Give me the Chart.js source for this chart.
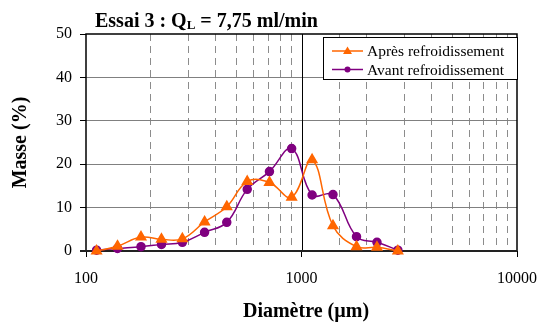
<!DOCTYPE html>
<html>
<head>
<meta charset="utf-8">
<script src="https://cdn.jsdelivr.net/npm/chart.js@4.4.0/dist/chart.umd.min.js"></script>
<style>
  body{margin:0;background:#fff}
  #wrap{width:541px;height:326px}
</style>
</head>
<body>
<div id="wrap"><canvas id="c" width="541" height="326"></canvas></div>
<script>
// donnees
var diametres=[112,140,180,224,280,355,450,560,710,900,1120,1400,1800,2240,2800];
var apres=[0,1.1,3.2,2.7,2.8,6.7,10.2,16.0,15.8,12.4,21.0,5.8,1.0,0.85,0];
var avant=[0.2,0.6,1.0,1.5,2.0,4.3,6.6,14.2,18.3,23.6,12.9,13.0,3.3,2.0,0.2];
var xLabels=[100,1000,10000];
var nomsSeries=["Après refroidissement","Avant refroidissement"];
var couleurs=["#FF6600","#800080"];

var serif="'Liberation Serif','Times New Roman',serif";

function pts(ys){
  var out=[];
  for(var i=0;i<diametres.length;i++) out.push({x:diametres[i],y:ys[i]});
  return out;
}
function isMajor(v){ return xLabels.indexOf(v)>=0; }

var decor={
  id:'decor',
  beforeDatasetsDraw:function(chart){
    var ctx=chart.ctx, a=chart.chartArea, sx=chart.scales.x;
    ctx.save();
    // ligne pleine a 1000
    var px=Math.round(sx.getPixelForValue(1000))+0.5;
    ctx.strokeStyle='#000';ctx.lineWidth=1;
    ctx.beginPath();ctx.moveTo(px,a.top);ctx.lineTo(px,a.bottom);ctx.stroke();
    // cadre
    ctx.lineWidth=1.5;
    ctx.strokeRect(a.left,a.top,a.right-a.left,a.bottom-a.top);
    ctx.lineWidth=2;ctx.strokeStyle='#222';
    ctx.beginPath();ctx.moveTo(a.left-6,a.bottom);ctx.lineTo(a.right,a.bottom);ctx.stroke();
    ctx.restore();
  },
  afterDraw:function(chart){
    var ctx=chart.ctx, a=chart.chartArea;
    ctx.save();
    ctx.fillStyle='#000';
    // titre
    ctx.font='bold 20px '+serif;
    ctx.textBaseline='alphabetic';ctx.textAlign='left';
    var t1="Essai 3 : Q", x=95, y=27;
    ctx.fillText(t1,x,y);x+=ctx.measureText(t1).width;
    ctx.font='bold 13px '+serif;
    ctx.fillText("L",x,y+2);x+=ctx.measureText("L").width;
    ctx.font='bold 20px '+serif;
    ctx.fillText(" = 7,75 ml/min",x,y);
    // titres des axes
    ctx.textAlign='center';ctx.textBaseline='middle';
    ctx.fillText("Diamètre (µm)",306,312);
    ctx.translate(21,(a.top+a.bottom)/2);
    ctx.rotate(-Math.PI/2);
    ctx.fillText("Masse (%)",0,0);
    ctx.restore();

    // legende
    ctx.save();
    var lx=323,ly=37,lw=a.right-lx,lh=42;
    ctx.fillStyle='#fff';ctx.fillRect(lx,ly,lw,lh);
    ctx.strokeStyle='#000';ctx.lineWidth=1;
    ctx.strokeRect(lx+0.5,ly+0.5,lw,lh);
    var rows=[51,69.5];
    for(var i=0;i<2;i++){
      var yy=rows[i];
      ctx.strokeStyle=couleurs[i];ctx.lineWidth=1.5;
      ctx.beginPath();ctx.moveTo(332,yy);ctx.lineTo(363,yy);ctx.stroke();
      ctx.fillStyle=couleurs[i];
      ctx.beginPath();
      if(i===0){ctx.moveTo(347.5,yy-4.5);ctx.lineTo(352,yy+3);ctx.lineTo(343,yy+3);ctx.closePath();}
      else{ctx.arc(347.5,yy,3,0,Math.PI*2);}
      ctx.fill();
      ctx.fillStyle='#000';ctx.font='15.5px '+serif;
      ctx.textAlign='left';ctx.textBaseline='middle';
      ctx.fillText(nomsSeries[i],367,yy+1);
    }
    ctx.restore();
  }
};

new Chart(document.getElementById('c'),{
  type:'line',
  data:{
    datasets:[
      {label:nomsSeries[0],data:pts(apres),borderColor:couleurs[0],backgroundColor:couleurs[0],
       borderWidth:1.5,pointStyle:'triangle',pointRadius:5.5,tension:0.4,clip:false},
      {label:nomsSeries[1],data:pts(avant),borderColor:couleurs[1],backgroundColor:couleurs[1],
       borderWidth:1.5,pointStyle:'circle',pointRadius:4,tension:0.4,clip:false}
    ]
  },
  plugins:[decor],
  options:{
    responsive:false,
    animation:false,
    layout:{padding:{top:34,right:24,left:0,bottom:0}},
    plugins:{legend:{display:false},tooltip:{enabled:false}},
    scales:{
      x:{
        type:'logarithmic',min:100,max:10000,
        afterFit:function(s){s.height=75;s.paddingLeft=0;s.paddingRight=0;},
        border:{display:false,dash:[7,5]},
        grid:{
          color:function(c){return c.tick&&isMajor(c.tick.value)?'rgba(0,0,0,0)':'#8c8c8c';},
          tickColor:function(c){return c.tick&&isMajor(c.tick.value)?'#000':'rgba(0,0,0,0)';},
          tickLength:6,lineWidth:1
        },
        ticks:{
          autoSkip:false,maxRotation:0,padding:12,color:'#000',font:{family:serif,size:16},
          callback:function(v){return isMajor(v)?String(v):'';}
        }
      },
      y:{
        min:0,max:50,
        afterFit:function(s){s.width=86;s.paddingTop=0;s.paddingBottom=0;},
        border:{display:false},
        grid:{
          color:function(c){return (c.tick&&(c.tick.value===0||c.tick.value===50))?'rgba(0,0,0,0)':'#808080';},
          tickColor:'#000',tickLength:6,lineWidth:1
        },
        ticks:{stepSize:10,padding:8,color:'#000',font:{family:serif,size:16}}
      }
    }
  }
});
</script>
</body>
</html>
